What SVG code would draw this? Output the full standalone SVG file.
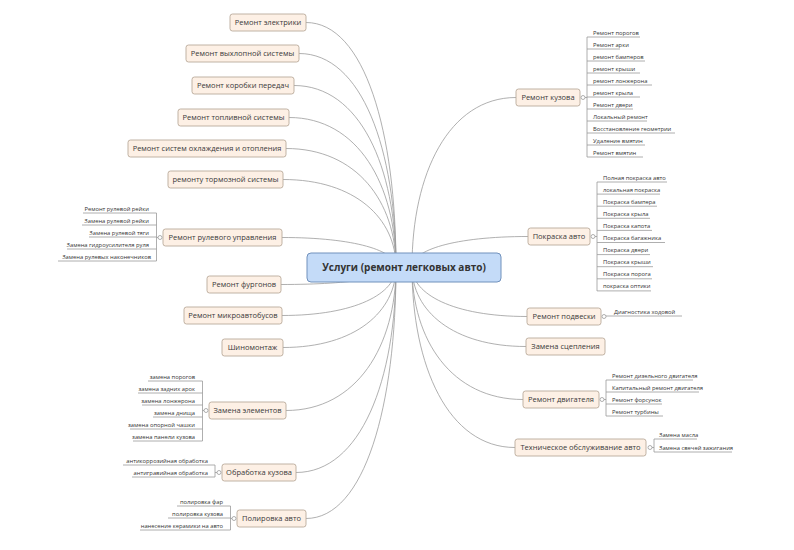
<svg xmlns="http://www.w3.org/2000/svg" width="794" height="550" viewBox="0 0 794 550">
<style>
.bg{fill:#ffffff}
.c path{fill:none;stroke:#9c9c9c;stroke-width:0.8}
.n rect{fill:#fdf0e5;stroke:#b9aa9b;stroke-width:0.9}
.n text{font-family:"Open Sans","Liberation Sans",sans-serif;font-size:7.5px;fill:#3a3a3a;text-anchor:middle}
.m rect{fill:#c4dbf8;stroke:#7191bc;stroke-width:1}
.m text{font-family:"Open Sans","Liberation Sans",sans-serif;font-size:10px;font-weight:bold;fill:#333;text-anchor:middle}
.u{fill:none;stroke:#9a9a9a;stroke-width:0.8}
.k{fill:#fff;stroke:#9a9a9a;stroke-width:0.8}
.n .l{font-family:"Open Sans","Liberation Sans",sans-serif;font-size:5.8px;fill:#333;text-anchor:start}
.n .r{text-anchor:end}
</style>
<rect class="bg" x="0" y="0" width="794" height="550"/>
<g id="connectors" class="c">
<path d="M306,22.5 C364.8,22.5 396,132.5 396,267"/>
<path d="M299,53.5 C362,53.5 396,149.6 396,267"/>
<path d="M294,85.5 C360,85.5 396,167.2 396,267"/>
<path d="M289,117.5 C358,117.5 396,184.8 396,267"/>
<path d="M286,148.5 C356.8,148.5 396,201.8 396,267"/>
<path d="M283,179.5 C355.6,179.5 396,218.9 396,267"/>
<path d="M282,237.5 C355.2,237.5 396,250.8 396,267"/>
<path d="M281,284.5 C354.8,284.5 396,276.6 396,267"/>
<path d="M282,315.5 C355.2,315.5 396,293.7 396,267"/>
<path d="M283,347.5 C355.6,347.5 396,311.3 396,267"/>
<path d="M286,410.5 C356.8,410.5 396,345.9 396,267"/>
<path d="M296,472.5 C360.8,472.5 396,380 396,267"/>
<path d="M306,518.5 C364.8,518.5 396,405.3 396,267"/>
<path d="M516,97.5 C448.8,97.5 412,173.8 412,267"/>
<path d="M528,236.5 C453.6,236.5 412,250.2 412,267"/>
<path d="M527,316.5 C453.2,316.5 412,294.2 412,267"/>
<path d="M526,346.5 C452.8,346.5 412,310.7 412,267"/>
<path d="M523,399.5 C451.6,399.5 412,339.9 412,267"/>
<path d="M515,447.5 C448.4,447.5 412,366.3 412,267"/>
</g>
<g id="center" class="m"><rect x="307" y="253" width="194" height="29" rx="4"/><text x="404" y="270.5">Услуги (ремонт легковых авто)</text></g>
<g id="n1" class="n"><rect x="230" y="14" width="76" height="17" rx="2.5"/><text x="268" y="25.1">Ремонт электрики</text></g>
<g id="n2" class="n"><rect x="186" y="45" width="113" height="17" rx="2.5"/><text x="242.5" y="56.1">Ремонт выхлопной системы</text></g>
<g id="n3" class="n"><rect x="192" y="77" width="102" height="17" rx="2.5"/><text x="243" y="88.1">Ремонт коробки передач</text></g>
<g id="n4" class="n"><rect x="178" y="109" width="111" height="17" rx="2.5"/><text x="233.5" y="120.1">Ремонт топливной системы</text></g>
<g id="n5" class="n"><rect x="128" y="140" width="158" height="17" rx="2.5"/><text x="207" y="151.1">Ремонт систем охлаждения и отопления</text></g>
<g id="n6" class="n"><rect x="168" y="171" width="115" height="17" rx="2.5"/><text x="225.5" y="182.1">ремонту тормозной системы</text></g>
<g id="n7" class="n"><rect x="163" y="229" width="119" height="17" rx="2.5"/><text x="222.5" y="240.1">Ремонт рулевого управления</text>
<circle class="k" cx="160" cy="237.5" r="2"/>
<path class="u" d="M158,237.5 H156.5 M156.5,213 V261 M83,213 H156.5 M82,225 H156.5 M89,237 H156.5 M67,249 H156.5 M58,261 H156.5"/>
<text class="l r" x="149" y="210.5">Ремонт рулевой рейки</text>
<text class="l r" x="149" y="222.5">Замена рулевой рейки</text>
<text class="l r" x="149" y="234.5">Замена рулевой тяги</text>
<text class="l r" x="149" y="246.5">Замена гидроусилителя руля</text>
<text class="l r" x="151" y="258.5">Замена рулевых наконечников</text>
</g>
<g id="n8" class="n"><rect x="207" y="276" width="74" height="17" rx="2.5"/><text x="244" y="287.1">Ремонт фургонов</text></g>
<g id="n9" class="n"><rect x="184" y="307" width="98" height="17" rx="2.5"/><text x="233" y="318.1">Ремонт микроавтобусов</text></g>
<g id="n10" class="n"><rect x="222" y="339" width="61" height="17" rx="2.5"/><text x="252.5" y="350.1">Шиномонтаж</text></g>
<g id="n11" class="n"><rect x="209" y="402" width="77" height="17" rx="2.5"/><text x="247.5" y="413.1">Замена элементов</text>
<circle class="k" cx="206" cy="410.5" r="2"/>
<path class="u" d="M204,410.5 H202.5 M202.5,381 V441 M148,381 H202.5 M138,393 H202.5 M142,405 H202.5 M153,417 H202.5 M130,429 H202.5 M133,441 H202.5"/>
<text class="l r" x="195" y="378.5">замена порогов</text>
<text class="l r" x="195" y="390.5">замена задних арок</text>
<text class="l r" x="195" y="402.5">замена лонжерона</text>
<text class="l r" x="195" y="414.5">замена днища</text>
<text class="l r" x="195" y="426.5">замена опорной чашки</text>
<text class="l r" x="195" y="438.5">замена панели кузова</text>
</g>
<g id="n12" class="n"><rect x="222" y="464" width="74" height="17" rx="2.5"/><text x="259" y="475.1">Обработка кузова</text>
<circle class="k" cx="219" cy="472.5" r="2"/>
<path class="u" d="M217,472.5 H215 M215,465 V477 M123,465 H215 M132,477 H215"/>
<text class="l r" x="208" y="462.5">антикоррозийная обработка</text>
<text class="l r" x="208" y="474.5">антигравийная обработка</text>
</g>
<g id="n13" class="n"><rect x="237" y="510" width="69" height="17" rx="2.5"/><text x="271.5" y="521.1">Полировка авто</text>
<circle class="k" cx="234" cy="518.5" r="2"/>
<path class="u" d="M232,518.5 H230.5 M230.5,506 V530 M177,506 H230.5 M168,518 H230.5 M140,530 H230.5"/>
<text class="l r" x="223" y="503.5">полировка фар</text>
<text class="l r" x="223" y="515.5">полировка кузова</text>
<text class="l r" x="223" y="527.5">нанесение керамики на авто</text>
</g>
<g id="r1" class="n"><rect x="516" y="89" width="64" height="17" rx="2.5"/><text x="548" y="100.1">Ремонт кузова</text>
<circle class="k" cx="583" cy="97.5" r="2"/>
<path class="u" d="M585,97.5 H587 M587,37 V157 M587,37 H640 M587,49 H620 M587,61 H645 M587,73 H640 M587,85 H652 M587,97 H640 M587,109 H633 M587,121 H647 M587,133 H675 M587,145 H645 M587,157 H643"/>
<text class="l" x="593" y="34.5">Ремонт порогов</text>
<text class="l" x="593" y="46.5">Ремонт арки</text>
<text class="l" x="593" y="58.5">ремонт бамперов</text>
<text class="l" x="593" y="70.5">ремонт крыши</text>
<text class="l" x="593" y="82.5">ремонт лонжерона</text>
<text class="l" x="593" y="94.5">ремонт крыла</text>
<text class="l" x="593" y="106.5">Ремонт двери</text>
<text class="l" x="593" y="118.5">Локальный ремонт</text>
<text class="l" x="593" y="130.5">Восстановление геометрии</text>
<text class="l" x="593" y="142.5">Удаление вмятин</text>
<text class="l" x="593" y="154.5">Ремонт вмятин</text>
</g>
<g id="r2" class="n"><rect x="528" y="228" width="62" height="17" rx="2.5"/><text x="559" y="239.1">Покраска авто</text>
<circle class="k" cx="593" cy="236.5" r="2"/>
<path class="u" d="M595,236.5 H597 M597,182 V291 M597,182 H667 M597,194.1 H660 M597,206.2 H657 M597,218.3 H650 M597,230.4 H652 M597,242.5 H665 M597,254.6 H650 M597,266.7 H653 M597,278.8 H652 M597,290.9 H651"/>
<text class="l" x="603" y="179.5">Полная покраска авто</text>
<text class="l" x="603" y="191.6">локальная покраска</text>
<text class="l" x="603" y="203.7">Покраска бампера</text>
<text class="l" x="603" y="215.8">Покраска крыла</text>
<text class="l" x="603" y="227.9">Покраска капота</text>
<text class="l" x="603" y="240">Покраска багажника</text>
<text class="l" x="603" y="252.1">Покраска двери</text>
<text class="l" x="603" y="264.2">Покраска крыши</text>
<text class="l" x="603" y="276.3">Покраска порога</text>
<text class="l" x="603" y="288.4">покраска оптики</text>
</g>
<g id="r3" class="n"><rect x="527" y="308" width="74" height="17" rx="2.5"/><text x="564" y="319.1">Ремонт подвески</text>
<circle class="k" cx="604" cy="316.5" r="2"/>
<path class="u" d="M606,316 H682"/>
<text class="l" x="614" y="313.5">Диагностика ходовой</text>
</g>
<g id="r4" class="n"><rect x="526" y="338" width="79" height="17" rx="2.5"/><text x="565.5" y="349.1">Замена сцепления</text></g>
<g id="r5" class="n"><rect x="523" y="391" width="76" height="17" rx="2.5"/><text x="561" y="402.1">Ремонт двигателя</text>
<circle class="k" cx="602" cy="399.5" r="2"/>
<path class="u" d="M604,399.5 H606 M606,380 V416 M606,380 H693 M606,392 H699 M606,404 H662 M606,416 H663"/>
<text class="l" x="612" y="377.5">Ремонт дизельного двигателя</text>
<text class="l" x="612" y="389.5">Капитальный ремонт двигателя</text>
<text class="l" x="612" y="401.5">Ремонт форсунок</text>
<text class="l" x="612" y="413.5">Ремонт турбины</text>
</g>
<g id="r6" class="n"><rect x="515" y="439" width="131" height="17" rx="2.5"/><text x="580.5" y="450.1">Техническое обслуживание авто</text>
<circle class="k" cx="650" cy="447.5" r="2"/>
<path class="u" d="M652,447.5 H654 M654,439 V452 M654,439 H697 M654,452 H732"/>
<text class="l" x="659" y="436.5">Замена масла</text>
<text class="l" x="659" y="449.5">Замена свечей зажигания</text>
</g>
</svg>
